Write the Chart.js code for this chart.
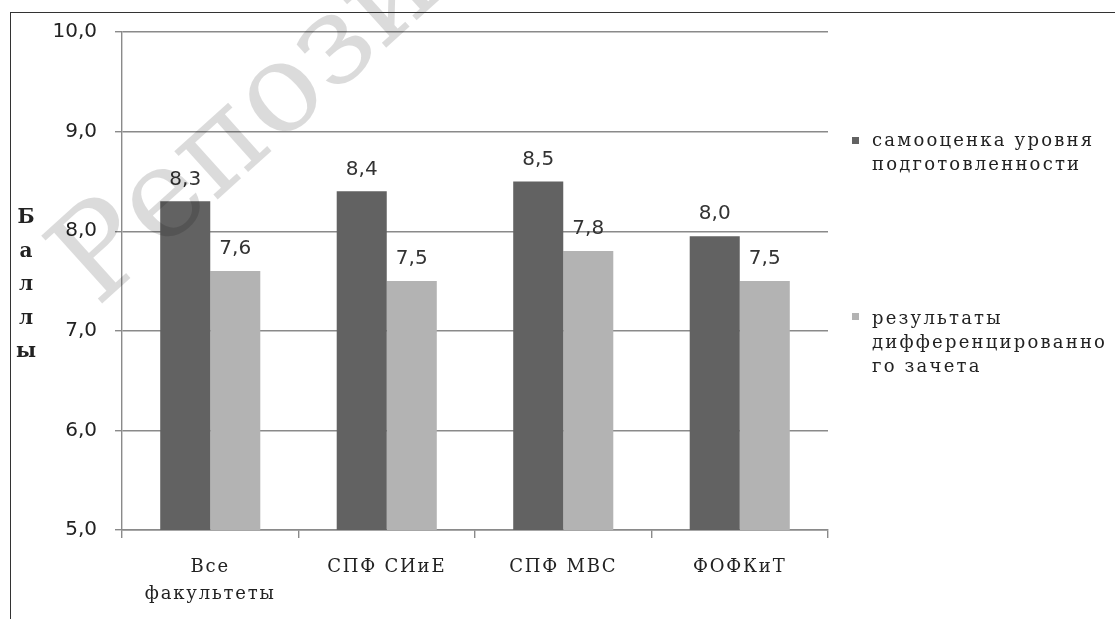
<!DOCTYPE html>
<html>
<head>
<meta charset="utf-8">
<script src="https://cdn.jsdelivr.net/npm/chart.js@4"></script>
<style>
    html, body { margin: 0; padding: 0; background: #fff; }
    #wrap { position: relative; width: 1115px; height: 619px; overflow: hidden; }
    #frame { position: absolute; left: 10px; top: 12px; right: -5px; bottom: -5px;
        border-left: 1.5px solid #333; border-top: 1.5px solid #333; pointer-events: none; }
    .leg { position: absolute; left: 872px; font-family: "DejaVu Serif", serif;
        font-size: 18px; letter-spacing: 2.2px; line-height: 24px; color: #222; white-space: nowrap; }
    .mark { position: absolute; left: 852px; width: 7px; height: 7px; }
</style>
</head>
<body>
<div id="wrap">
    <canvas id="c" width="1115" height="619"></canvas>
    <div id="frame"></div>
    <div class="mark" style="top:137px; background:#626262"></div>
    <div class="leg" style="top:128px">самооценка уровня<br>подготовленности</div>
    <div class="mark" style="top:313px; background:#b3b3b3"></div>
    <div class="leg" style="top:306px">результаты<br>дифференцированно<br>го зачета</div>
</div>
<script>
// Data
const categories = [['Все', 'факультеты'], 'СПФ СИиЕ', 'СПФ МВС', 'ФОФКиТ'];
const selfRating = [8.3, 8.4, 8.5, 7.95];
const testResults = [7.6, 7.5, 7.8, 7.5];
const yTitleLetters = ['Б', 'а', 'л', 'л', 'ы'];

const fmt = v => (Math.round(v * 10) / 10).toFixed(1).replace('.', ',');

// value labels above bars
const barLabels = {
    id: 'barLabels',
    afterDatasetsDraw(chart) {
        const ctx = chart.ctx;
        ctx.save();
        ctx.font = '20px "DejaVu Sans"';
        ctx.fillStyle = '#333';
        ctx.textAlign = 'center';
        ctx.textBaseline = 'middle';
        chart.data.datasets.forEach((ds, i) => {
            chart.getDatasetMeta(i).data.forEach((bar, j) => {
                ctx.fillText(fmt(ds.data[j]), bar.x, bar.y - 22);
            });
        });
        ctx.restore();
    }
};

// category labels (spaced serif), stacked y title, watermark
const extras = {
    id: 'extras',
    afterDraw(chart) {
        const ctx = chart.ctx;
        const xs = chart.scales.x;
        ctx.save();
        ctx.font = '18px "DejaVu Serif"';
        ctx.letterSpacing = '1.8px';
        ctx.fillStyle = '#222';
        ctx.textAlign = 'center';
        ctx.textBaseline = 'middle';
        categories.forEach((c, i) => {
            const lines = Array.isArray(c) ? c : [c];
            lines.forEach((t, k) => ctx.fillText(t, xs.getPixelForValue(i), 567 + k * 27));
        });
        ctx.letterSpacing = '0px';

        ctx.font = 'bold 20px "DejaVu Serif"';
        yTitleLetters.forEach((l, i) => ctx.fillText(l, 26, 218 + i * 33.5));

        // faint watermark
        ctx.translate(97, 308);
        ctx.rotate(-42 * Math.PI / 180);
        ctx.font = '125px "DejaVu Serif"';
        ctx.fillStyle = 'rgba(0,0,0,0.14)';
        ctx.textAlign = 'left';
        ctx.textBaseline = 'alphabetic';
        ctx.fillText('Репозиторий', 0, 0);
        ctx.restore();
    }
};

new Chart(document.getElementById('c'), {
    type: 'bar',
    data: {
        labels: categories,
        datasets: [
            { label: 'самооценка уровня подготовленности', data: selfRating, backgroundColor: '#626262' },
            { label: 'результаты дифференцированного зачета', data: testResults, backgroundColor: '#b3b3b3' }
        ]
    },
    options: {
        responsive: false,
        animation: false,
        layout: { padding: { left: 10, right: 287, top: 32, bottom: 0 } },
        datasets: { bar: { barPercentage: 1, categoryPercentage: 0.567 } },
        plugins: { legend: { display: false }, tooltip: { enabled: false } },
        scales: {
            y: {
                min: 5, max: 10,
                afterFit: s => { s.width = 112; },
                ticks: {
                    stepSize: 1, padding: 18, color: '#222',
                    font: { family: 'DejaVu Sans', size: 20 },
                    callback: v => fmt(v)
                },
                grid: { color: '#8a8a8a', lineWidth: 1.4, tickLength: 7 },
                border: { color: '#8a8a8a', width: 1.4 }
            },
            x: {
                afterFit: s => { s.height = 89; },
                ticks: { display: false },
                grid: { offset: true, drawOnChartArea: false, color: '#8a8a8a', lineWidth: 1.4, tickLength: 8 },
                border: { color: '#8a8a8a', width: 1.4 }
            }
        }
    },
    plugins: [barLabels, extras]
});
</script>
</body>
</html>
